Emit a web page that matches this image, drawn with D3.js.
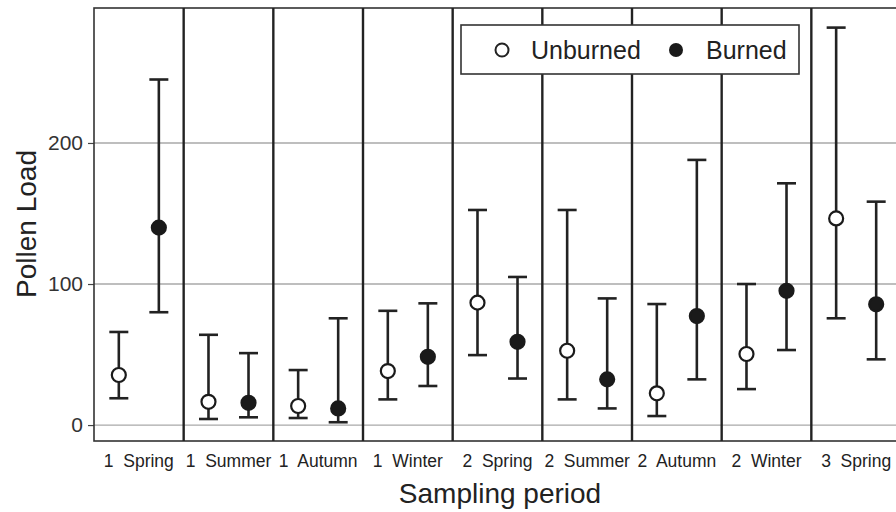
<!DOCTYPE html>
<html>
<head>
<meta charset="utf-8">
<script src="https://d3js.org/d3.v7.min.js"></script>
<style>
  body { margin: 0; background: #fff; }
  text { font-family: "Liberation Sans", Arial, sans-serif; }
</style>
</head>
<body>
<script>
// sampling periods (x categories)
const periods = ["1  Spring", "1  Summer", "1  Autumn", "1  Winter", "2  Spring",
                 "2  Summer", "2  Autumn", "2  Winter", "3  Spring"];
const groups = ["Unburned", "Burned"];

// estimated values
const unburnedMean = [35.5, 16.5, 13.5, 38.3, 86.8, 52.7, 22.5, 50.4, 146.5];
const unburnedLow  = [19, 4.3, 5, 18.2, 49.6, 18.2, 6.4, 25.5, 75.7];
const unburnedHigh = [66, 64, 39, 81, 152.5, 152.5, 85.8, 100, 281.8];
const burnedMean   = [140, 15.8, 11.8, 48.4, 59, 32.4, 77.3, 95.2, 85.6];
const burnedLow    = [80, 5.5, 2, 27.7, 33, 11.8, 32.4, 53.2, 46.6];
const burnedHigh   = [245, 51, 75.7, 86.3, 105, 89.8, 188, 171.4, 158.4];
const yTicks = [0, 100, 200];

const width = 896, height = 512;
const margin = { top: 8, right: -5, bottom: 71, left: 94 };

const svg = d3.select("body").append("svg")
    .attr("width", width)
    .attr("height", height);

const x = d3.scaleBand()
    .domain(periods)
    .range([margin.left, width - margin.right]);

const xInner = d3.scalePoint()
    .domain(groups)
    .range([0, x.bandwidth()])
    .padding(0.62);

const y = d3.scaleLinear()
    .domain([-11.3, 295.7])
    .range([height - margin.bottom, margin.top]);

// gridlines
svg.append("g")
    .selectAll("line")
    .data(yTicks)
    .enter()
    .append("line")
    .attr("x1", margin.left)
    .attr("x2", width - margin.right)
    .attr("y1", d => y(d))
    .attr("y2", d => y(d))
    .attr("stroke", "#a9a9a9")
    .attr("stroke-width", 1.3);

// y axis
const yAxis = svg.append("g")
    .attr("transform", `translate(${margin.left},0)`)
    .call(d3.axisLeft(y).tickValues(yTicks).tickSize(6).tickPadding(5));
yAxis.select(".domain").remove();
yAxis.selectAll(".tick line").attr("stroke", "#444").attr("stroke-width", 1.2);
yAxis.selectAll(".tick text")
    .style("font-size", "21px")
    .attr("fill", "#333");

// panel frame
svg.append("rect")
    .attr("x", margin.left)
    .attr("y", margin.top)
    .attr("width", width - margin.right - margin.left)
    .attr("height", y.range()[0] - margin.top)
    .attr("fill", "none")
    .attr("stroke", "#333")
    .attr("stroke-width", 1.6);

// panel separators
svg.append("g")
    .selectAll("line")
    .data(periods.slice(1))
    .enter()
    .append("line")
    .attr("x1", d => x(d))
    .attr("x2", d => x(d))
    .attr("y1", margin.top)
    .attr("y2", y.range()[0])
    .attr("stroke", "#222")
    .attr("stroke-width", 2.4);

// x labels
svg.append("g")
    .selectAll("text")
    .data(periods)
    .enter()
    .append("text")
    .attr("x", d => x(d) + x.bandwidth() / 2)
    .attr("y", 467)
    .attr("text-anchor", "middle")
    .attr("font-size", "17.5px")
    .attr("fill", "#222")
    .attr("xml:space", "preserve")
    .style("white-space", "pre")
    .text(d => d);

// error bars + points
const rows = [];
periods.forEach((p, i) => {
    rows.push({ period: p, group: "Unburned", mean: unburnedMean[i], lo: unburnedLow[i], hi: unburnedHigh[i] });
    rows.push({ period: p, group: "Burned", mean: burnedMean[i], lo: burnedLow[i], hi: burnedHigh[i] });
});

const cap = 9.5;
const bars = svg.append("g")
    .selectAll("g")
    .data(rows)
    .enter()
    .append("g")
    .attr("transform", d => `translate(${x(d.period) + xInner(d.group)},0)`);

bars.append("line")
    .attr("y1", d => y(d.lo))
    .attr("y2", d => y(d.hi))
    .attr("stroke", "#222")
    .attr("stroke-width", 2.6);
bars.append("line")
    .attr("x1", -cap).attr("x2", cap)
    .attr("y1", d => y(d.hi)).attr("y2", d => y(d.hi))
    .attr("stroke", "#222")
    .attr("stroke-width", 2.6);
bars.append("line")
    .attr("x1", -cap).attr("x2", cap)
    .attr("y1", d => y(d.lo)).attr("y2", d => y(d.lo))
    .attr("stroke", "#222")
    .attr("stroke-width", 2.6);
bars.append("circle")
    .attr("cy", d => y(d.mean))
    .attr("r", 7)
    .attr("fill", d => d.group === "Burned" ? "#1a1a1a" : "#fff")
    .attr("stroke", "#1a1a1a")
    .attr("stroke-width", 2.2);

// legend
const legend = svg.append("g");
legend.append("rect")
    .attr("x", 461)
    .attr("y", 25)
    .attr("width", 338)
    .attr("height", 49)
    .attr("fill", "#fff")
    .attr("stroke", "#333")
    .attr("stroke-width", 1.6);
legend.append("circle")
    .attr("cx", 502).attr("cy", 50).attr("r", 6.5)
    .attr("fill", "#fff").attr("stroke", "#222").attr("stroke-width", 2);
legend.append("text")
    .attr("x", 531).attr("y", 58.5)
    .attr("font-size", "25px").attr("fill", "#222")
    .text("Unburned");
legend.append("circle")
    .attr("cx", 676).attr("cy", 50).attr("r", 7)
    .attr("fill", "#1a1a1a");
legend.append("text")
    .attr("x", 706).attr("y", 58.5)
    .attr("font-size", "25px").attr("fill", "#222")
    .text("Burned");

// axis titles
svg.append("text")
    .attr("x", 500)
    .attr("y", 503)
    .attr("text-anchor", "middle")
    .attr("font-size", "28px")
    .attr("fill", "#222")
    .text("Sampling period");

svg.append("text")
    .attr("transform", `translate(36,224) rotate(-90)`)
    .attr("text-anchor", "middle")
    .attr("font-size", "28px")
    .attr("fill", "#222")
    .text("Pollen Load");
</script>
</body>
</html>
